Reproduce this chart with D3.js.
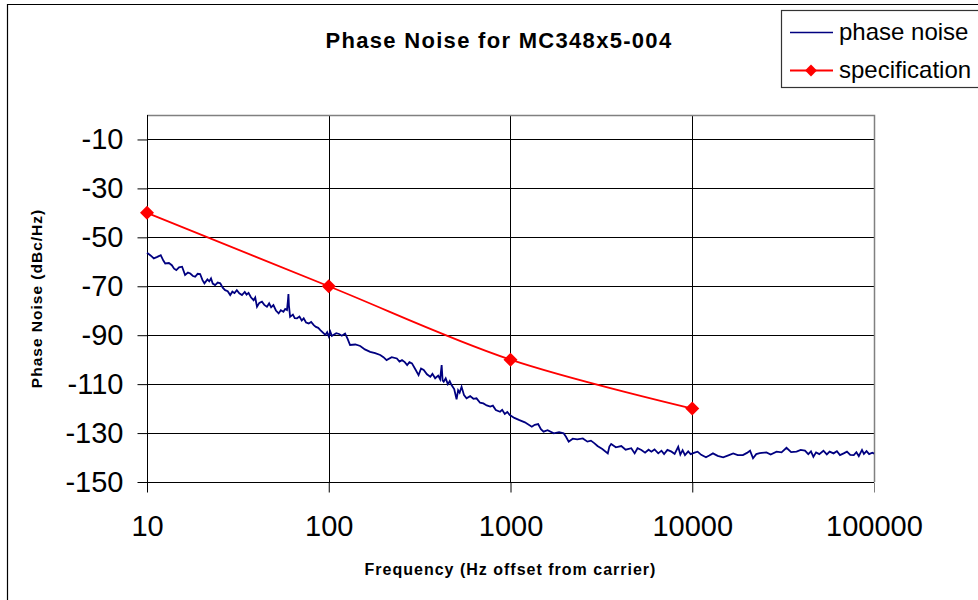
<!DOCTYPE html>
<html>
<head>
<meta charset="utf-8">
<script src="https://cdn.jsdelivr.net/npm/d3@7"></script>
<style>
    body { margin: 0; background: #fff; }
    svg { display: block; font-family: "Liberation Sans", Arial, sans-serif; }
</style>
</head>
<body>
<div class="chartcontainer"></div>
<script>
const settings = {
    width: 978,
    height: 600,
    left: 147,
    right: 874,
    top: 115,
    bottom: 482
};

// y axis ticks (dBc/Hz) and x axis ticks (Hz)
const yTicks = [-150, -130, -110, -90, -70, -50, -30, -10];
const xTicks = [10, 100, 1000, 10000, 100000];

// specification points
const specFreq = [10, 100, 1000, 10000];
const specDb = [-40, -70, -100, -120];

const noiseFreq = [
    10, 10.5, 10.9, 11.4, 11.9, 12.3, 12.6, 13.2, 13.7, 14.1, 14.5, 15.0, 15.6, 16.2, 16.8, 17.3, 17.9, 18.4, 19.0, 19.6,
    20.2, 20.7, 21.5, 22.0, 22.5, 23.0, 23.7, 24.5, 25.3, 26.1, 26.9, 27.8, 28.7, 29.5, 30.3, 31.2, 32.2, 33.3, 34.5, 35.3,
    36.2, 37.3, 38.6, 39.4, 40.3, 41.5, 42.9, 44.2, 45.7, 47.0, 48.2, 49.6, 51.2, 53, 54.5, 56.3, 57.6, 58.9, 59.6, 60,
    60.4, 61.3, 63.5, 65, 66.9, 69, 71, 72.8, 75, 77.6, 80, 82.7, 85, 87.5, 89.9, 92, 95.8, 98, 100, 102,
    104, 106, 110, 114, 118, 123, 127, 131, 140, 149, 158, 169, 180, 192, 200, 208, 222, 237, 245, 253,
    262, 270, 278, 287, 300, 312, 322, 333, 347, 362, 372, 385, 400, 410, 418, 423, 429, 440, 452, 463,
    474, 490, 505, 515, 525, 538, 555, 573, 600, 625, 650, 680, 709, 740, 774, 800, 830, 876, 900, 930,
    960, 991, 1050, 1120, 1200, 1310, 1360, 1420, 1470, 1520, 1600, 1730, 1850, 1960, 2020, 2090, 2200, 2330, 2500, 2650,
    2770, 2900, 3010, 3200, 3430, 3500, 3580, 3800, 4070, 4300, 4620, 4820, 5000, 5250, 5500, 5750, 5960, 6200, 6500, 6770,
    7000, 7300, 7690, 8000, 8370, 8600, 8850, 9120, 9500, 9800, 10300, 10700, 11200, 11900, 12400, 13000, 13800, 14800, 15800, 16800,
    17800, 19000, 20000, 20800, 21600, 22500, 23500, 25600, 27000, 29100, 31000, 33000, 35000, 37500, 39500, 41700, 43500, 45000, 46400, 48000,
    50000, 52700, 55000, 57000, 59900, 62500, 65000, 68100, 71000, 74000, 77400, 80000, 82500, 85900, 88000, 91000, 94000, 97800, 100000
];
const noiseDb = [
    -56.3, -57.5, -58.6, -58.0, -57.3, -59.5, -60.7, -60.5, -61.4, -62.8, -63.4, -62.3, -62.0, -65.4, -64.4, -64.8, -65.8, -66.1, -64.9, -65.0,
    -67.5, -68.8, -67.2, -68.0, -66.8, -68.9, -69.5, -68.5, -68.8, -70.6, -71.6, -72.0, -73.6, -72.2, -72.8, -71.6, -72.9, -73.6, -72.3, -73.4,
    -72.7, -74.5, -75.7, -74.6, -78.4, -76.8, -76.3, -77.6, -78.4, -77.0, -78.6, -77.7, -79.9, -81.1, -79.8, -80.4, -79.3, -79.7, -76.0, -73.2,
    -78.0, -82.5, -81.6, -83.0, -83.1, -82.4, -84.0, -83.1, -84.8, -85.2, -84.6, -85.9, -86.6, -87.0, -87.9, -88.6, -89.9, -88.8, -90.5, -88.6,
    -90.3, -89.9, -89.2, -89.5, -90.2, -89.3, -91.5, -94.0, -93.8, -94.4, -95.8, -96.8, -97.3, -98.1, -99.0, -100.2, -99.0, -99.5, -100.8, -100.2,
    -101.0, -102.2, -101.0, -101.5, -104.0, -106.3, -103.6, -104.2, -106.0, -107.0, -105.8, -107.6, -106.5, -108.0, -102.2, -108.5, -109.0, -107.6, -110.0, -108.8,
    -110.4, -112.0, -116.2, -112.5, -113.5, -111.1, -114.5, -115.8, -114.9, -116.0, -115.8, -117.6, -117.9, -118.7, -119.2, -118.8, -120.6, -121.3, -120.5, -122.2,
    -121.4, -122.6, -123.8, -124.7, -125.6, -127.4, -126.6, -126.3, -128.4, -129.4, -128.8, -130.1, -129.6, -130.1, -131.5, -133.5, -132.3, -132.6, -132.2, -133.5,
    -133.1, -134.2, -135.3, -136.5, -138.3, -135.5, -134.5, -135.8, -135.3, -136.8, -136.2, -138.3, -136.2, -136.9, -138.0, -136.8, -137.6, -136.7, -138.3, -137.2,
    -138.6, -136.9, -137.6, -138.5, -135.6, -138.8, -137.0, -139.0, -137.5, -138.6, -138.0, -137.6, -138.9, -139.9, -139.2, -138.3, -139.3, -139.9, -139.1, -138.3,
    -139.0, -139.0, -138.1, -137.2, -140.3, -138.6, -138.2, -137.9, -138.8, -137.6, -137.9, -136.0, -137.8, -137.6, -136.9, -137.2, -138.6, -137.5, -139.7, -137.9,
    -138.6, -137.2, -138.7, -137.6, -138.3, -137.4, -139.0, -138.3, -137.6, -138.9, -139.0, -137.8, -139.4, -136.9, -138.5, -137.4, -138.6, -138.0, -138.4
];

const noiseData = noiseFreq.map((f, i) => ({ f: f, db: noiseDb[i] }));
const specData = specFreq.map((f, i) => ({ f: f, db: specDb[i] }));

const svg = d3.select('.chartcontainer')
    .append('svg')
    .attr('width', settings.width)
    .attr('height', settings.height);

// outer chart frame (continues past the window on the right and bottom)
svg.append('path')
    .attr('d', 'M7.5,700 V4.5 H1100')
    .attr('fill', 'none')
    .attr('stroke', '#000')
    .attr('stroke-width', 1.2);

const x = d3.scaleLog()
    .domain([10, 100000])
    .range([settings.left, settings.right]);

const y = d3.scaleLinear()
    .domain([-150, 0])
    .range([settings.bottom, settings.top]);

// grid
svg.append('g')
    .selectAll('line')
    .data(yTicks)
    .enter()
    .append('line')
    .attr('x1', settings.left)
    .attr('x2', settings.right)
    .attr('y1', d => Math.round(y(d)) + 0.5)
    .attr('y2', d => Math.round(y(d)) + 0.5)
    .attr('stroke', '#000');

svg.append('g')
    .selectAll('line')
    .data(xTicks.slice(1, -1))
    .enter()
    .append('line')
    .attr('x1', d => Math.round(x(d)) + 0.5)
    .attr('x2', d => Math.round(x(d)) + 0.5)
    .attr('y1', settings.top)
    .attr('y2', settings.bottom)
    .attr('stroke', '#000');

// plot frame top / right
svg.append('path')
    .attr('d', `M${settings.left},${settings.top + 0.5} H${settings.right + 0.5} V${settings.bottom}`)
    .attr('fill', 'none')
    .attr('stroke', '#808080')
    .attr('stroke-width', 1.5);

// axes
const yAxis = svg.append('g')
    .attr('transform', `translate(${settings.left + 0.5},0)`)
    .call(d3.axisLeft(y).tickValues(yTicks).tickFormat(d => d.toString()).tickSize(10).tickPadding(14));

const xAxis = svg.append('g')
    .attr('transform', `translate(0,${settings.bottom + 0.5})`)
    .call(d3.axisBottom(x).tickValues(xTicks).tickFormat(d => d.toString()).tickSize(10).tickPadding(23));

[yAxis, xAxis].forEach(ax => {
    ax.select('.domain').attr('stroke', '#000');
    ax.selectAll('.tick line').attr('stroke', '#000');
    ax.selectAll('.tick text')
        .attr('font-size', 29)
        .attr('fill', '#000')
        .attr('font-family', '"Liberation Sans", Arial, sans-serif');
});
yAxis.select('.domain').attr('d', `M0,${settings.bottom + 10}V${settings.top}`);
xAxis.select('.domain').remove();
xAxis.selectAll('.tick line').filter(d => d === 100000).attr('stroke', '#808080');

// phase noise trace
svg.append('path')
    .datum(noiseData)
    .attr('d', d3.line().x(d => x(d.f)).y(d => y(d.db)))
    .attr('fill', 'none')
    .attr('stroke', '#000080')
    .attr('stroke-width', 1.8);

// specification
svg.append('path')
    .datum(specData)
    .attr('d', d3.line().curve(d3.curveCatmullRom).x(d => x(d.f)).y(d => y(d.db)))
    .attr('fill', 'none')
    .attr('stroke', '#ff0000')
    .attr('stroke-width', 1.8);

const diamond = d3.symbol().type(d3.symbolDiamond2).size(125);

svg.append('g')
    .selectAll('path')
    .data(specData)
    .enter()
    .append('path')
    .attr('d', diamond)
    .attr('transform', d => `translate(${x(d.f)},${y(d.db)})`)
    .attr('fill', '#ff0000');

// titles
svg.append('text')
    .attr('x', 499)
    .attr('y', 48)
    .attr('text-anchor', 'middle')
    .attr('font-size', 22)
    .attr('font-weight', 'bold')
    .attr('letter-spacing', 1.3)
    .text('Phase Noise for MC348x5-004');

svg.append('text')
    .attr('x', (settings.left + settings.right) / 2)
    .attr('y', 575)
    .attr('text-anchor', 'middle')
    .attr('font-size', 16)
    .attr('font-weight', 'bold')
    .attr('letter-spacing', 1)
    .text('Frequency (Hz offset from carrier)');

svg.append('text')
    .attr('transform', `translate(42,${(settings.top + settings.bottom) / 2}) rotate(-90)`)
    .attr('text-anchor', 'middle')
    .attr('font-size', 15.5)
    .attr('font-weight', 'bold')
    .attr('letter-spacing', 1)
    .text('Phase Noise (dBc/Hz)');

// legend
const legend = svg.append('g');

legend.append('rect')
    .attr('x', 781.5)
    .attr('y', 10.5)
    .attr('width', 220)
    .attr('height', 77)
    .attr('fill', '#fff')
    .attr('stroke', '#333')
    .attr('stroke-width', 1.2);

legend.append('line')
    .attr('x1', 790).attr('x2', 833)
    .attr('y1', 32.5).attr('y2', 32.5)
    .attr('stroke', '#000080')
    .attr('stroke-width', 1.6);

legend.append('line')
    .attr('x1', 790).attr('x2', 833)
    .attr('y1', 70.5).attr('y2', 70.5)
    .attr('stroke', '#ff0000')
    .attr('stroke-width', 1.8);

legend.append('path')
    .attr('d', d3.symbol().type(d3.symbolDiamond2).size(90))
    .attr('transform', 'translate(811,70.5)')
    .attr('fill', '#ff0000');

legend.append('text')
    .attr('x', 839)
    .attr('y', 40)
    .attr('font-size', 24)
    .text('phase noise');

legend.append('text')
    .attr('x', 839)
    .attr('y', 78)
    .attr('font-size', 24)
    .text('specification');
</script>
</body>
</html>
